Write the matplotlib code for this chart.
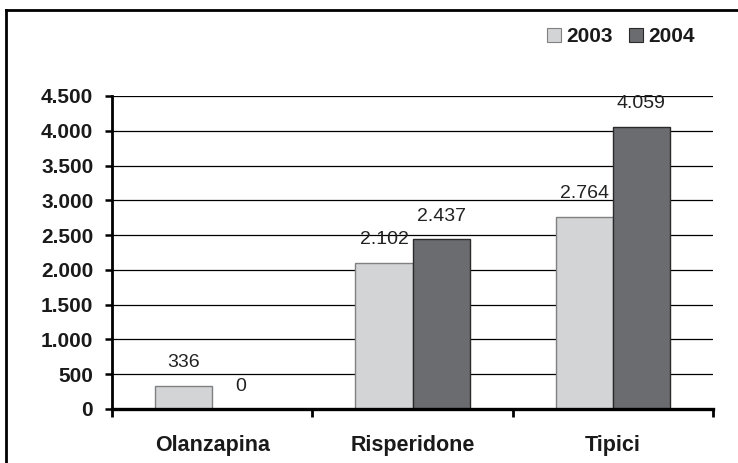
import matplotlib
matplotlib.use("Agg")
import matplotlib.pyplot as plt
from matplotlib.lines import Line2D
from matplotlib.patches import Patch
import numpy as np

plt.rcParams['font.family'] = ['Liberation Sans', 'DejaVu Sans']

categories = ["Olanzapina", "Risperidone", "Tipici"]
series_names = ["2003", "2004"]
values_2003 = [336, 2102, 2764]
values_2004 = [0, 2437, 4059]
yticks = [0, 500, 1000, 1500, 2000, 2500, 3000, 3500, 4000, 4500]
ytick_labels = ["0", "500", "1.000", "1.500", "2.000", "2.500", "3.000", "3.500", "4.000", "4.500"]

c2003 = "#d3d4d6"
c2004 = "#6b6c70"

fig = plt.figure(figsize=(7.38, 4.63), dpi=100)
ax = fig.add_axes([112/738, 1-409/463, (713-112)/738, (409-96)/463])

x = np.arange(len(categories))
w = 0.285
b1 = ax.bar(x - w/2, values_2003, w, color=c2003, edgecolor="#808080", linewidth=1.0, zorder=2, label=series_names[0])
b2 = ax.bar(x + w/2, values_2004, w, color=c2004, edgecolor="#2a2a2a", linewidth=1.0, zorder=2, label=series_names[1])

def fmt(v):
    return f"{v:,}".replace(",", ".")

for bars, vals in ((b1, values_2003), (b2, values_2004)):
    for r, v in zip(bars, vals):
        ax.annotate(fmt(v), (r.get_x() + r.get_width()/2, v), xytext=(0, 16.5),
                    textcoords="offset points", ha="center", va="center",
                    fontsize=14, color="#222222", zorder=3)

ax.set_xlim(-0.5, 2.5)
ax.set_ylim(0, 4500)
ax.set_yticks(yticks)
ax.set_yticklabels(ytick_labels, fontsize=15, fontweight="bold", color="#1a1a1a")
ax.yaxis.grid(True, color="black", linewidth=0.9, zorder=0)
ax.set_axisbelow(True)

ax.set_xticks([-0.5, 0.5, 1.5, 2.5])
ax.set_xticklabels([])
ax.set_xticks(x, minor=True)
ax.set_xticklabels(categories, minor=True, fontsize=15.5, fontweight="bold", color="#1a1a1a")
ax.tick_params(axis="x", which="minor", length=0, pad=19)
ax.tick_params(axis="x", which="major", length=6, width=2, direction="out")
ax.tick_params(axis="y", length=5, width=1.8, direction="out", pad=8.5)

for s in ("top", "right"):
    ax.spines[s].set_visible(False)
ax.spines["left"].set_linewidth(2)
ax.spines["bottom"].set_linewidth(2.4)

handles = [Patch(facecolor=c2003, edgecolor="#808080", linewidth=0.8),
           Patch(facecolor=c2004, edgecolor="#2a2a2a", linewidth=0.8)]
leg = fig.legend(handles, series_names, loc="center left", bbox_to_anchor=(547/738, 1-37/463),
                 ncol=2, frameon=False, borderpad=0, borderaxespad=0,
                 handlelength=0.67, handleheight=0.67, handletextpad=0.25,
                 columnspacing=0.8, prop={"weight": "bold", "size": 15})
for t in leg.get_texts():
    t.set_color("#1a1a1a")

# outer frame
fig.add_artist(Line2D([6/738, 1.0], [1-10/463, 1-10/463], color="black", linewidth=2, transform=fig.transFigure))
fig.add_artist(Line2D([6/738, 6/738], [0, 1-10/463], color="black", linewidth=2, transform=fig.transFigure))

fig.savefig("out.png", dpi=100)
